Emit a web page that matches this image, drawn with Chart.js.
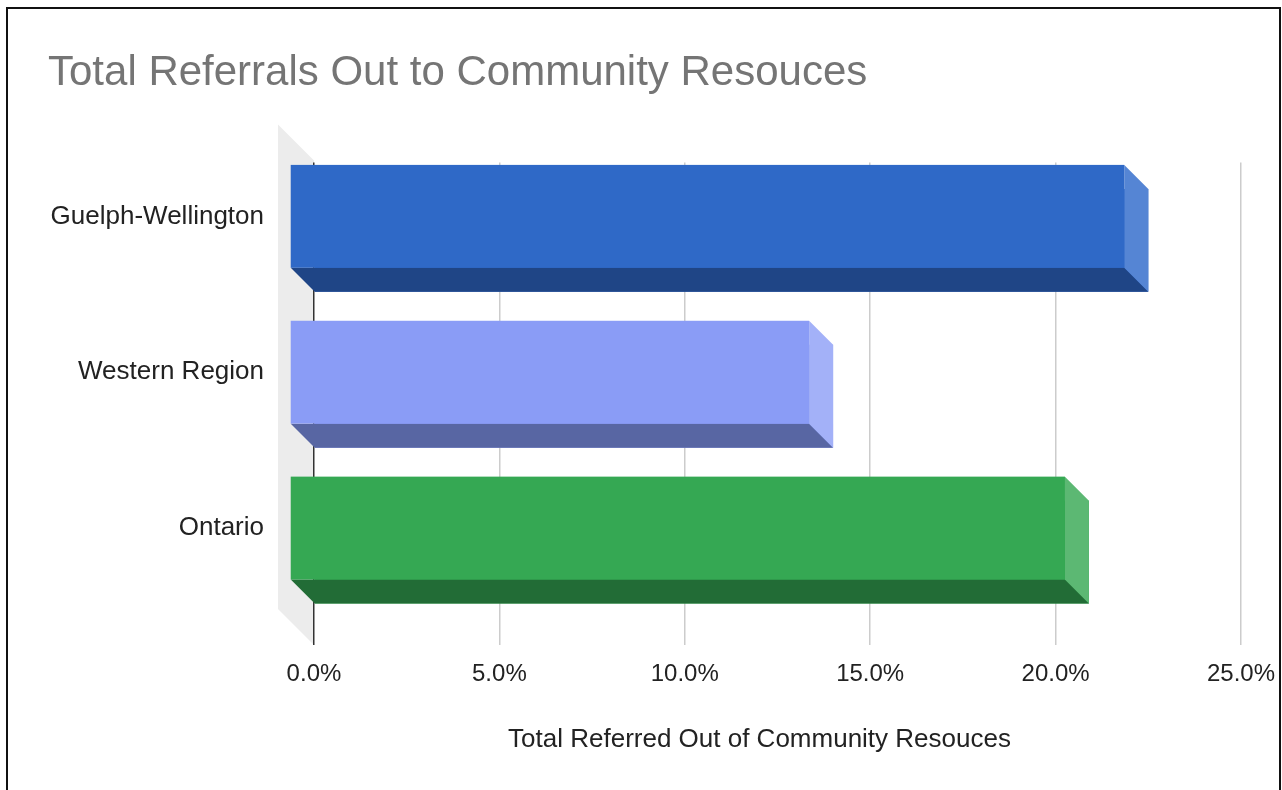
<!DOCTYPE html>
<html>
<head>
<meta charset="utf-8">
<script src="https://cdn.jsdelivr.net/npm/chart.js@4.4.1/dist/chart.umd.min.js"></script>
<style>
  html, body { margin: 0; padding: 0; background: #fff; overflow: hidden; }
  #frame { position: absolute; left: 6px; top: 7px; width: 1271px; height: 820px; border: 2px solid #111; }
  #wrap { position: absolute; left: 0; top: 0; width: 1282px; height: 790px; }
</style>
</head>
<body>
<div id="frame"></div>
<div id="wrap"><canvas id="referralChart"></canvas></div>
<script>
//Data
const categories = ['Guelph-Wellington', 'Western Region', 'Ontario']
const referralPct = [22.5, 14.0, 20.9]
const xTicks = [0, 5, 10, 15, 20, 25]

//Colours for each bar: front / end side / bottom side
const frontColors = ['#2f69c7', '#8a9cf6', '#35a853']
const sideColors = ['#5585d4', '#a3b1f8', '#5cb873']
const bottomColors = ['#1f4586', '#5866a3', '#226c36']

const fontFamily = '"Liberation Sans", Arial, sans-serif'
const depth = 24

//3D look of the google chart
const bars3d = {
  id: 'bars3d',
  beforeDraw(chart) {
    const ctx = chart.ctx
    const area = chart.chartArea
    const zero = chart.scales.x.getPixelForValue(0)
    const d = zero - area.left
    ctx.save()
    ctx.fillStyle = '#ececec'
    ctx.beginPath()
    ctx.moveTo(area.left, area.top - 2 - d)
    ctx.lineTo(zero, area.top - 2)
    ctx.lineTo(zero, area.bottom + 15)
    ctx.lineTo(area.left, area.bottom + 15 - d)
    ctx.closePath()
    ctx.fill()
    ctx.restore()
  },
  afterDatasetsDraw(chart) {
    const ctx = chart.ctx
    const meta = chart.getDatasetMeta(0)
    ctx.save()
    meta.data.forEach((bar, i) => {
      const p = bar.getProps(['x', 'y', 'base', 'height'], true)
      const top = p.y - p.height / 2
      const bottom = p.y + p.height / 2
      const left = p.base
      const right = p.x

      //bottom face
      ctx.fillStyle = bottomColors[i]
      ctx.beginPath()
      ctx.moveTo(left - depth, bottom - depth)
      ctx.lineTo(right - depth, bottom - depth)
      ctx.lineTo(right, bottom)
      ctx.lineTo(left, bottom)
      ctx.closePath()
      ctx.fill()

      //end face
      ctx.fillStyle = sideColors[i]
      ctx.beginPath()
      ctx.moveTo(right - depth, top - depth)
      ctx.lineTo(right, top)
      ctx.lineTo(right, bottom)
      ctx.lineTo(right - depth, bottom - depth)
      ctx.closePath()
      ctx.fill()

      //front face
      ctx.fillStyle = frontColors[i]
      ctx.fillRect(left - depth, top - depth, right - left, bottom - top)
    })
    ctx.restore()
  }
}

const ctx = document.getElementById('referralChart').getContext('2d')

const referralChart = new Chart(ctx, {
  type: 'bar',
  data: {
    labels: categories,
    datasets: [{
      label: 'Total Referred Out of Community Resouces',
      data: referralPct,
      backgroundColor: frontColors,
      borderWidth: 0,
      barPercentage: 0.66,
      categoryPercentage: 1
    }]
  },
  options: {
    indexAxis: 'y',
    responsive: true,
    maintainAspectRatio: false,
    animation: false,
    layout: {
      padding: { left: 48, right: 41, top: 0, bottom: 0 }
    },
    scales: {
      x: {
        min: -0.97,
        max: 25,
        afterBuildTicks(scale) {
          scale.ticks = xTicks.map(v => ({ value: v }))
        },
        afterFit(scale) {
          scale.height = 160
          scale.paddingLeft = 0
          scale.paddingRight = 0
        },
        grid: {
          color: c => (c.tick && c.tick.value === 0) ? '#333333' : '#cccccc',
          lineWidth: 1.5,
          tickLength: 15,
          drawTicks: true
        },
        border: { display: false },
        ticks: {
          padding: 15,
          color: '#222',
          font: { family: fontFamily, size: 24 },
          callback: v => Number(v).toFixed(1) + '%'
        },
        title: {
          display: true,
          text: 'Total Referred Out of Community Resouces',
          color: '#222',
          font: { family: fontFamily, size: 26 },
          padding: { top: 0, bottom: 35 }
        }
      },
      y: {
        afterFit(scale) {
          scale.width = 230
        },
        grid: { display: false, drawTicks: false },
        border: { display: false },
        ticks: {
          padding: 14,
          labelOffset: -depth,
          color: '#222',
          font: { family: fontFamily, size: 26 }
        }
      }
    },
    plugins: {
      legend: { display: false },
      tooltip: { enabled: false },
      title: {
        display: true,
        text: 'Total Referrals Out to Community Resouces',
        align: 'start',
        color: '#757575',
        font: { family: fontFamily, size: 42, weight: 'normal' },
        padding: { top: 48, bottom: 64 }
      }
    }
  },
  plugins: [bars3d]
})
</script>
</body>
</html>
